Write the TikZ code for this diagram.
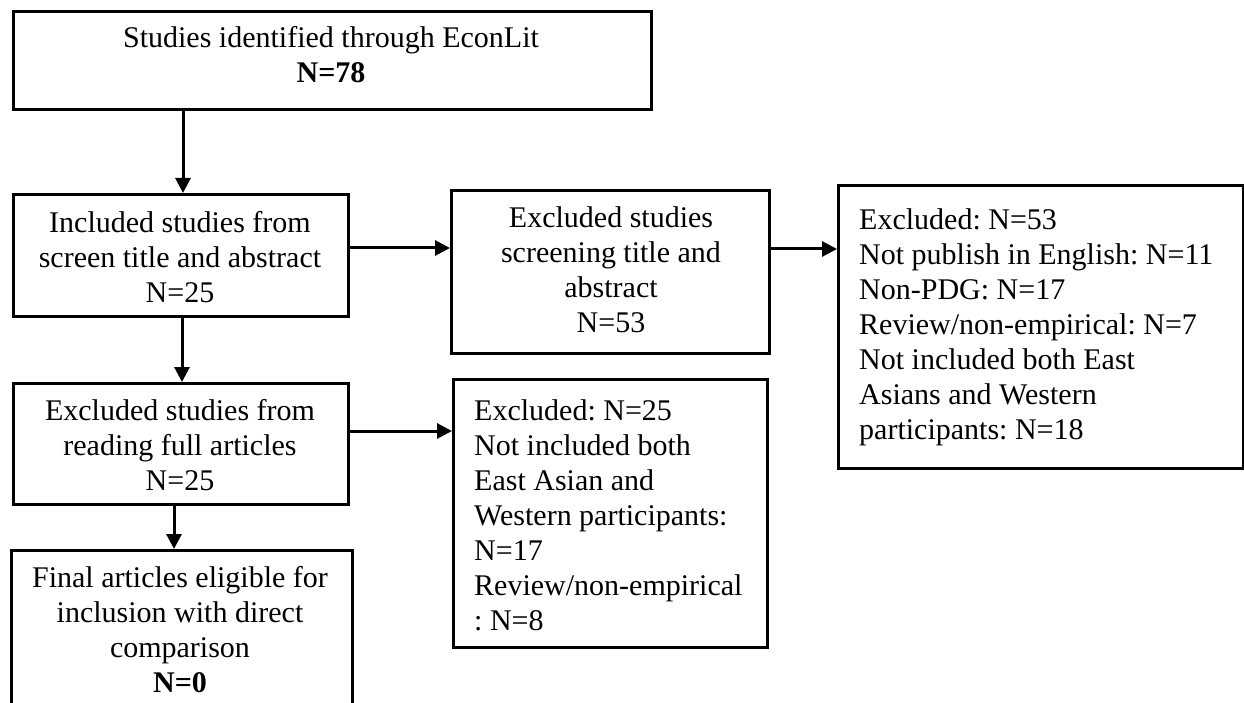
\documentclass[tikz,border=0pt]{standalone}
\usepackage{fontspec}
\setmainfont{Liberation Serif}
\usetikzlibrary{arrows.meta}
\begin{document}
\frenchspacing
\begin{tikzpicture}[x=1pt,y=-1pt,
  box/.style={draw=black,line width=3pt,rectangle,inner sep=0pt,anchor=north west,fill=white},
  txt/.style={inner sep=0pt,font=\fontsize{30}{35}\selectfont},
  ctxt/.style={txt,align=center},
  ltxt/.style={txt,align=left,anchor=west},
  flow/.style={line width=3pt,-{Triangle[length=15pt,width=15pt]}}]
\useasboundingbox (0,0) rectangle (1244,703);
\clip (0,0) rectangle (1244,703);
\fill[white] (0,0) rectangle (1244,703);

% boxes
\node[box,minimum width=638,minimum height=98]  (A) at (12,10)   {};
\node[box,minimum width=335,minimum height=122] (B) at (12,193)  {};
\node[box,minimum width=318,minimum height=163] (C) at (450,189) {};
\node[box,minimum width=405,minimum height=283] (D) at (837,184) {};
\node[box,minimum width=335,minimum height=121] (E) at (12,382)  {};
\node[box,minimum width=341,minimum height=180] (F) at (10,549)  {};
\node[box,minimum width=314,minimum height=268] (G) at (452,378) {};

% texts
\node[ctxt] (tA) at (331,55)  {Studies identified through EconLit\\\textbf{N=78}};
\node[ctxt] (tB) at (180,257) {Included studies from\\screen title and abstract\\N=25};
\node[ctxt] (tC) at (611,270) {Excluded studies\\screening title and\\abstract\\N=53};
\node[ltxt] (tD) at (859,327) {Excluded: N=53\\Not publish in English: N=11\\Non-PDG: N=17\\Review/non-empirical: N=7\\Not included both East\\Asians and Western\\participants: N=18};
\node[ctxt] (tE) at (180,445) {Excluded studies from\\reading full articles\\N=25};
\node[ctxt] (tF) at (180,630) {Final articles eligible for\\inclusion with direct\\comparison\\\textbf{N=0}};
\node[ltxt] (tG) at (474,515) {Excluded: N=25\\Not included both\\East Asian and\\Western participants:\\N=17\\Review/non-empirical\\: N=8};

% connectors
\draw[flow] (A.south west) ++(171,0) coordinate (a1) -- (a1 |- B.north);
\draw[flow] (B.east |- 0,248) -- (C.west |- 0,248);
\draw[flow] (C.east |- 0,249) -- (D.west |- 0,249);
\draw[flow] (B.south west) ++(170,0) coordinate (b1) -- (b1 |- E.north);
\draw[flow] (E.south west) ++(162,0) coordinate (e1) -- (e1 |- F.north);
\draw[flow] (E.east |- 0,431) -- (G.west |- 0,431);
\end{tikzpicture}
\end{document}
